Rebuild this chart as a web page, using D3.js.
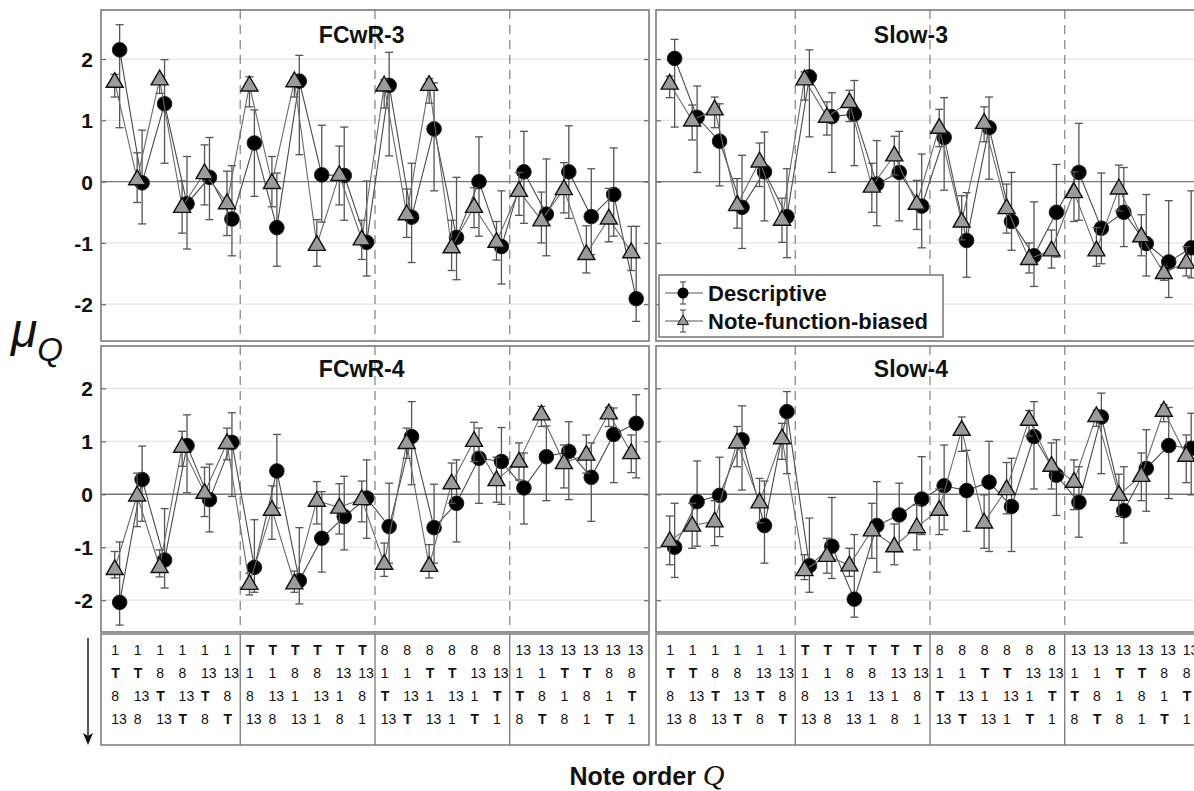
<!DOCTYPE html>
<html><head><meta charset="utf-8">
<script src="https://cdn.jsdelivr.net/npm/d3@7"></script>
<style>
html,body{margin:0;padding:0;background:#fff;}
svg{display:block;}
text{font-family:"Liberation Sans",Arial,Helvetica,sans-serif;}
</style></head>
<body>
<svg id="chart" width="1194" height="791"></svg>
<script>
// ---------- data ----------
const noteOrder = d3.range(1, 25);
const yTicks = [-2, -1, 0, 1, 2];
const groupBreaks = [6.5, 12.5, 18.5];
const panelTitles = ["FCwR-3", "Slow-3", "FCwR-4", "Slow-4"];
const seriesNames = ["Descriptive", "Note-function-biased"];

const row1 = ["1","1","1","1","1","1","T","T","T","T","T","T","8","8","8","8","8","8","13","13","13","13","13","13"];
const row2 = ["T","T","8","8","13","13","1","1","8","8","13","13","1","1","T","T","13","13","1","1","T","T","8","8"];
const row3 = ["8","13","T","13","T","8","8","13","1","13","1","8","T","13","1","13","1","T","T","8","1","8","1","T"];
const row4 = ["13","8","13","T","8","T","13","8","13","1","8","1","13","T","13","1","T","1","8","T","8","1","T","1"];

// FCwR-3
const fcwr3Desc   = [2.15,-0.02,1.27,-0.36,0.07,-0.61,0.63,-0.75,1.64,0.11,0.10,-0.99,1.57,-0.58,0.86,-0.91,0.00,-1.06,0.16,-0.53,0.16,-0.57,-0.21,-1.91];
const fcwr3DescHi = [2.56,0.84,1.99,0.41,0.72,0.26,1.17,0.14,2.06,0.92,0.89,0.01,2.11,0.30,1.61,0.07,0.73,-0.15,0.82,0.37,0.91,0.21,0.55,-0.73];
const fcwr3DescLo = [0.88,-0.69,0.30,-1.10,-0.62,-1.21,-0.24,-1.38,0.44,-0.66,-0.63,-1.54,0.42,-1.32,-0.15,-1.60,-0.89,-1.67,-0.68,-1.21,-0.60,-1.19,-0.89,-2.28];
const fcwr3Nfb    = [1.63,0.04,1.67,-0.41,0.14,-0.35,1.57,-0.02,1.64,-1.03,0.11,-0.94,1.57,-0.53,1.58,-1.07,-0.41,-0.98,-0.15,-0.63,-0.12,-1.18,-0.60,-1.15];
const fcwr3NfbHi  = [1.75,0.47,1.72,0.01,0.60,0.17,1.71,0.41,1.71,-0.62,0.58,-0.63,1.66,-0.12,1.68,-0.63,-0.10,-0.65,0.15,-0.17,0.31,-0.72,-0.11,-0.73];
const fcwr3NfbLo  = [1.38,-0.34,1.44,-0.84,-0.38,-0.88,1.22,-0.41,1.38,-1.38,-0.38,-1.27,1.20,-0.91,1.28,-1.45,-0.75,-1.28,-0.55,-1.00,-0.51,-1.49,-0.98,-1.45];

// Slow-3
const slow3Desc   = [2.01,1.05,0.66,-0.42,0.16,-0.57,1.71,1.06,1.10,-0.04,0.15,-0.40,0.72,-0.96,0.88,-0.65,-1.21,-0.50,0.15,-0.76,-0.50,-1.01,-1.31,-1.08];
const slow3DescHi = [2.32,1.56,1.27,0.43,0.81,0.21,2.15,1.45,1.65,0.67,0.82,0.45,1.37,-0.18,1.38,0.15,-0.33,0.28,0.95,0.14,0.23,-0.21,-0.31,-0.15];
const slow3DescLo = [0.89,0.15,-0.07,-1.09,-0.64,-1.24,0.73,0.15,0.26,-0.72,-0.64,-1.08,-0.14,-1.56,0.04,-1.12,-1.71,-1.23,-0.63,-1.34,-1.06,-1.54,-1.89,-1.57];
const slow3Nfb    = [1.60,1.00,1.18,-0.38,0.33,-0.62,1.67,1.06,1.30,-0.08,0.43,-0.36,0.88,-0.65,0.96,-0.43,-1.26,-1.12,-0.17,-1.12,-0.11,-0.89,-1.49,-1.32];
const slow3NfbHi  = [1.72,1.25,1.38,0.05,0.63,-0.27,1.79,1.30,1.49,0.30,0.74,0.02,1.18,-0.23,1.22,-0.04,-1.00,-0.79,0.16,-0.75,0.27,-0.54,-1.38,-1.06];
const slow3NfbLo  = [1.37,0.68,0.88,-0.76,-0.08,-0.99,1.33,0.76,0.98,-0.50,0.11,-0.78,0.57,-0.95,0.65,-0.84,-1.49,-1.41,-0.65,-1.38,-0.48,-1.21,-1.61,-1.54];

// FCwR-4
const fcwr4Desc   = [-2.04,0.28,-1.24,0.92,-0.10,0.98,-1.38,0.44,-1.63,-0.83,-0.42,-0.07,-0.61,1.09,-0.63,-0.17,0.68,0.62,0.12,0.71,0.81,0.32,1.13,1.34];
const fcwr4DescHi = [-0.90,0.91,-0.27,1.50,0.57,1.54,-0.48,1.13,-0.63,0.05,0.34,0.65,0.21,1.75,0.19,0.65,1.25,1.26,0.78,1.29,1.37,0.97,1.63,1.88];
const fcwr4DescLo = [-2.47,-0.51,-1.77,0.03,-0.71,-0.04,-1.85,-0.26,-2.07,-1.47,-1.05,-0.83,-1.30,0.18,-1.30,-0.90,-0.17,-0.19,-0.56,-0.12,-0.10,-0.51,0.22,0.31];
const fcwr4Nfb    = [-1.41,-0.02,-1.37,0.90,0.03,0.97,-1.69,-0.29,-1.68,-0.12,-0.25,-0.09,-1.31,0.97,-1.35,0.21,1.01,0.27,0.62,1.51,0.59,0.75,1.53,0.78];
const fcwr4NfbHi  = [-1.08,0.40,-1.05,1.19,0.51,1.25,-1.49,0.16,-1.45,0.24,0.20,0.25,-0.92,1.25,-0.95,0.59,1.36,0.70,0.97,1.66,0.93,1.12,1.64,1.12];
const fcwr4NfbLo  = [-1.58,-0.61,-1.56,0.53,-0.42,0.65,-1.90,-0.85,-1.85,-0.56,-0.75,-0.52,-1.55,0.68,-1.58,-0.17,0.62,-0.15,0.27,1.28,0.12,0.40,1.28,0.41];

// Slow-4
const slow4Desc   = [-1.00,-0.14,-0.02,1.03,-0.59,1.56,-1.35,-0.98,-1.98,-0.59,-0.39,-0.09,0.16,0.07,0.23,-0.23,1.09,0.36,-0.15,1.46,-0.31,0.49,0.92,0.87];
const slow4DescHi = [-0.17,0.63,0.70,1.67,0.25,1.94,-0.45,-0.06,-0.76,0.24,0.21,0.71,0.93,0.83,1.00,0.68,1.75,1.03,0.52,1.91,0.52,1.22,1.64,1.53];
const slow4DescLo = [-1.57,-0.98,-0.80,0.08,-1.30,0.39,-1.85,-1.59,-2.32,-1.47,-1.08,-0.76,-0.67,-0.70,-1.08,-1.08,0.10,-0.40,-0.81,0.39,-0.92,-0.32,-0.08,-0.01];
const slow4Nfb    = [-0.88,-0.59,-0.51,0.98,-0.15,1.06,-1.43,-1.16,-1.34,-0.68,-0.98,-0.62,-0.29,1.22,-0.53,0.10,1.41,0.54,0.24,1.48,-0.01,0.35,1.58,0.73];
const slow4NfbHi  = [-0.41,-0.17,-0.12,1.28,0.30,1.34,-1.14,-0.83,-1.02,-0.17,-0.56,-0.20,0.10,1.46,-0.01,0.60,1.58,0.97,0.65,1.59,0.38,0.78,1.69,1.12];
const slow4NfbLo  = [-1.33,-1.02,-0.97,0.52,-0.54,0.66,-1.61,-1.49,-1.55,-1.21,-1.33,-1.05,-0.76,0.81,-1.02,-0.37,1.10,0.10,-0.29,1.28,-0.42,-0.12,1.37,0.22];

// ---------- layout ----------
const svg = d3.select("#chart");
const cols = [{x0:101, x1:649}, {x0:656, x1:1204}];
const rows = [{y0:10, y1:341}, {y0:346, y1:632}];
const xDomain = [0.3, 24.7];
const yDomain = [-2.6, 2.8];

const panels = [
  {title:panelTitles[0], c:0, r:0, d:fcwr3Desc, dHi:fcwr3DescHi, dLo:fcwr3DescLo, n:fcwr3Nfb, nHi:fcwr3NfbHi, nLo:fcwr3NfbLo},
  {title:panelTitles[1], c:1, r:0, d:slow3Desc, dHi:slow3DescHi, dLo:slow3DescLo, n:slow3Nfb, nHi:slow3NfbHi, nLo:slow3NfbLo},
  {title:panelTitles[2], c:0, r:1, d:fcwr4Desc, dHi:fcwr4DescHi, dLo:fcwr4DescLo, n:fcwr4Nfb, nHi:fcwr4NfbHi, nLo:fcwr4NfbLo},
  {title:panelTitles[3], c:1, r:1, d:slow4Desc, dHi:slow4DescHi, dLo:slow4DescLo, n:slow4Nfb, nHi:slow4NfbHi, nLo:slow4NfbLo}
];

const triPath = (cx, cy, s) => {
  const h = s * Math.sqrt(3) / 2;
  return `M${cx},${cy - h*0.62}L${cx + s/2},${cy + h*0.38}L${cx - s/2},${cy + h*0.38}Z`;
};

panels.forEach(p => {
  const C = cols[p.c], R = rows[p.r];
  const x = d3.scaleLinear().domain(xDomain).range([C.x0, C.x1]);
  const y = d3.scaleLinear().domain(yDomain).range([R.y1, R.y0]);
  const g = svg.append("g");

  // grid
  g.selectAll(".grid").data(yTicks).join("line")
    .attr("x1", C.x0).attr("x2", C.x1)
    .attr("y1", d => y(d)).attr("y2", d => y(d))
    .attr("stroke", d => d === 0 ? "#777" : "#e4e4e4")
    .attr("stroke-width", d => d === 0 ? 1.4 : 1.2);

  // group separators (dashed)
  g.selectAll(".sep").data(groupBreaks).join("line")
    .attr("x1", d => x(d)).attr("x2", d => x(d))
    .attr("y1", R.y0).attr("y2", R.y1)
    .attr("stroke", "#8a8a8a").attr("stroke-width", 1.3)
    .attr("stroke-dasharray", "9,6");

  // y ticks inward both sides
  const axL = d3.axisLeft(y).tickValues(yTicks).tickSize(-5).tickFormat("");
  const axR = d3.axisRight(y).tickValues(yTicks).tickSize(-5).tickFormat("");
  const gl = g.append("g").attr("transform", `translate(${C.x0},0)`).call(axL);
  const gr = g.append("g").attr("transform", `translate(${C.x1},0)`).call(axR);
  [gl, gr].forEach(a => {
    a.select(".domain").remove();
    a.selectAll("line").attr("stroke", "#666").attr("stroke-width", 1.2);
  });

  if (p.c === 0) {
    const lab = g.append("g").attr("transform", `translate(${C.x0 - 8},0)`)
      .call(d3.axisLeft(y).tickValues(yTicks).tickSize(0).tickPadding(0).tickFormat(d => d < 0 ? "-" + Math.abs(d) : String(d)));
    lab.select(".domain").remove();
    lab.selectAll("text").attr("font-size", 21).attr("font-weight", "bold")
      .attr("font-family", '"Liberation Sans",Arial,sans-serif').attr("fill", "#111")
      .attr("dy", "0.36em");
  }

  // border
  g.append("rect").attr("x", C.x0).attr("y", R.y0)
    .attr("width", C.x1 - C.x0).attr("height", R.y1 - R.y0)
    .attr("fill", "none").attr("stroke", "#7a7a7a").attr("stroke-width", 1.6);

  // title
  g.append("text").attr("x", x(10)).attr("y", R.y0 + (p.r === 0 ? 33 : 31))
    .attr("font-size", 23).attr("font-weight", "bold").attr("fill", "#111")
    .text(p.title);

  const series = [
    {vals:p.d, hi:p.dHi, lo:p.dLo, off:0.13, kind:"circle", line:"#4a4a4a"},
    {vals:p.n, hi:p.nHi, lo:p.nLo, off:-0.09, kind:"tri", line:"#6a6a6a"}
  ];
  series.forEach(s => {
    const pts = noteOrder.map((q, i) => ({q, v:s.vals[i], hi:s.hi[i], lo:s.lo[i]}));
    const sg = g.append("g");
    sg.append("path").datum(pts)
      .attr("d", d3.line().x(d => x(d.q + s.off)).y(d => y(d.v)))
      .attr("fill", "none").attr("stroke", s.line).attr("stroke-width", 1.1);
    const eb = sg.selectAll(".eb").data(pts).join("g").attr("stroke", "#555").attr("stroke-width", 1.3);
    eb.append("line").attr("x1", d => x(d.q + s.off)).attr("x2", d => x(d.q + s.off))
      .attr("y1", d => y(d.hi)).attr("y2", d => y(d.lo));
    eb.append("line").attr("x1", d => x(d.q + s.off) - 4).attr("x2", d => x(d.q + s.off) + 4)
      .attr("y1", d => y(d.hi)).attr("y2", d => y(d.hi));
    eb.append("line").attr("x1", d => x(d.q + s.off) - 4).attr("x2", d => x(d.q + s.off) + 4)
      .attr("y1", d => y(d.lo)).attr("y2", d => y(d.lo));
    if (s.kind === "circle") {
      sg.selectAll(".m").data(pts).join("circle")
        .attr("cx", d => x(d.q + s.off)).attr("cy", d => y(d.v)).attr("r", 7.3)
        .attr("fill", "#000").attr("stroke", "#222").attr("stroke-width", 1);
    } else {
      sg.selectAll(".m").data(pts).join("path")
        .attr("d", d => triPath(x(d.q + s.off), y(d.v), 17))
        .attr("fill", "#9b9b9b").attr("stroke", "#111").attr("stroke-width", 1.4);
    }
  });
});

// ---------- legend (in Slow-3 panel) ----------
const lg = svg.append("g");
lg.append("rect").attr("x", 659).attr("y", 275).attr("width", 284).attr("height", 62)
  .attr("fill", "#fff").attr("stroke", "#6a6a6a").attr("stroke-width", 1.4);
const legY = [293, 321];
seriesNames.forEach((name, i) => {
  const yy = legY[i];
  lg.append("line").attr("x1", 665).attr("x2", 703).attr("y1", yy).attr("y2", yy)
    .attr("stroke", "#555").attr("stroke-width", 1.1);
  lg.append("line").attr("x1", 683).attr("x2", 683).attr("y1", yy - 11).attr("y2", yy + 11).attr("stroke", "#555").attr("stroke-width", 1.2);
  lg.append("line").attr("x1", 680).attr("x2", 686).attr("y1", yy - 11).attr("y2", yy - 11).attr("stroke", "#555").attr("stroke-width", 1.2);
  lg.append("line").attr("x1", 680).attr("x2", 686).attr("y1", yy + 11).attr("y2", yy + 11).attr("stroke", "#555").attr("stroke-width", 1.2);
  if (i === 0) lg.append("circle").attr("cx", 683).attr("cy", yy).attr("r", 5.5).attr("fill", "#000");
  else lg.append("path").attr("d", triPath(683, yy, 11)).attr("fill", "#9b9b9b").attr("stroke", "#111").attr("stroke-width", 1);
  lg.append("text").attr("x", 708).attr("y", yy + 8).attr("font-size", 22).attr("font-weight", "bold")
    .attr("fill", "#111").text(name);
});

// ---------- note-order tables ----------
const tableRows = [row1, row2, row3, row4];
const rowY = [655, 678, 701, 724];
cols.forEach(C => {
  const x = d3.scaleLinear().domain(xDomain).range([C.x0, C.x1]);
  const tg = svg.append("g");
  tg.append("rect").attr("x", C.x0).attr("y", 634).attr("width", C.x1 - C.x0).attr("height", 111)
    .attr("fill", "none").attr("stroke", "#7a7a7a").attr("stroke-width", 1.5);
  tg.selectAll(".tsep").data(groupBreaks).join("line")
    .attr("x1", d => x(d)).attr("x2", d => x(d)).attr("y1", 634).attr("y2", 745)
    .attr("stroke", "#777").attr("stroke-width", 1.3);
  tableRows.forEach((row, ri) => {
    tg.selectAll(".cell" + ri).data(noteOrder).join("text")
      .attr("x", d => x(d) - 5.5).attr("y", rowY[ri])
      .attr("font-size", 14)
      .attr("font-weight", (d, i) => row[i] === "T" ? "bold" : "normal")
      .attr("fill", "#111")
      .text((d, i) => row[i]);
  });
});

// arrow
svg.append("line").attr("x1", 88).attr("x2", 88).attr("y1", 638).attr("y2", 742)
  .attr("stroke", "#111").attr("stroke-width", 1.4);
svg.append("path").attr("d", "M83,733 L88,745 L93,733 L88,736 Z").attr("fill", "#111");

// axis labels
const xl = svg.append("text").attr("x", 647).attr("y", 785).attr("text-anchor", "middle").attr("fill", "#111");
xl.append("tspan").attr("font-size", 25).attr("font-weight", "bold").text("Note order ");
xl.append("tspan").attr("font-size", 30).attr("font-style", "italic")
  .attr("font-family", '"Liberation Serif","Times New Roman",serif').text("Q");

const yl = svg.append("text").attr("x", 11).attr("y", 347).attr("fill", "#111")
  .attr("font-family", '"Liberation Serif","Times New Roman",serif').attr("font-style", "italic");
yl.append("tspan").attr("font-size", 48).text("μ");
yl.append("tspan").attr("font-size", 33).attr("dy", 14).text("Q");
</script>
</body></html>
